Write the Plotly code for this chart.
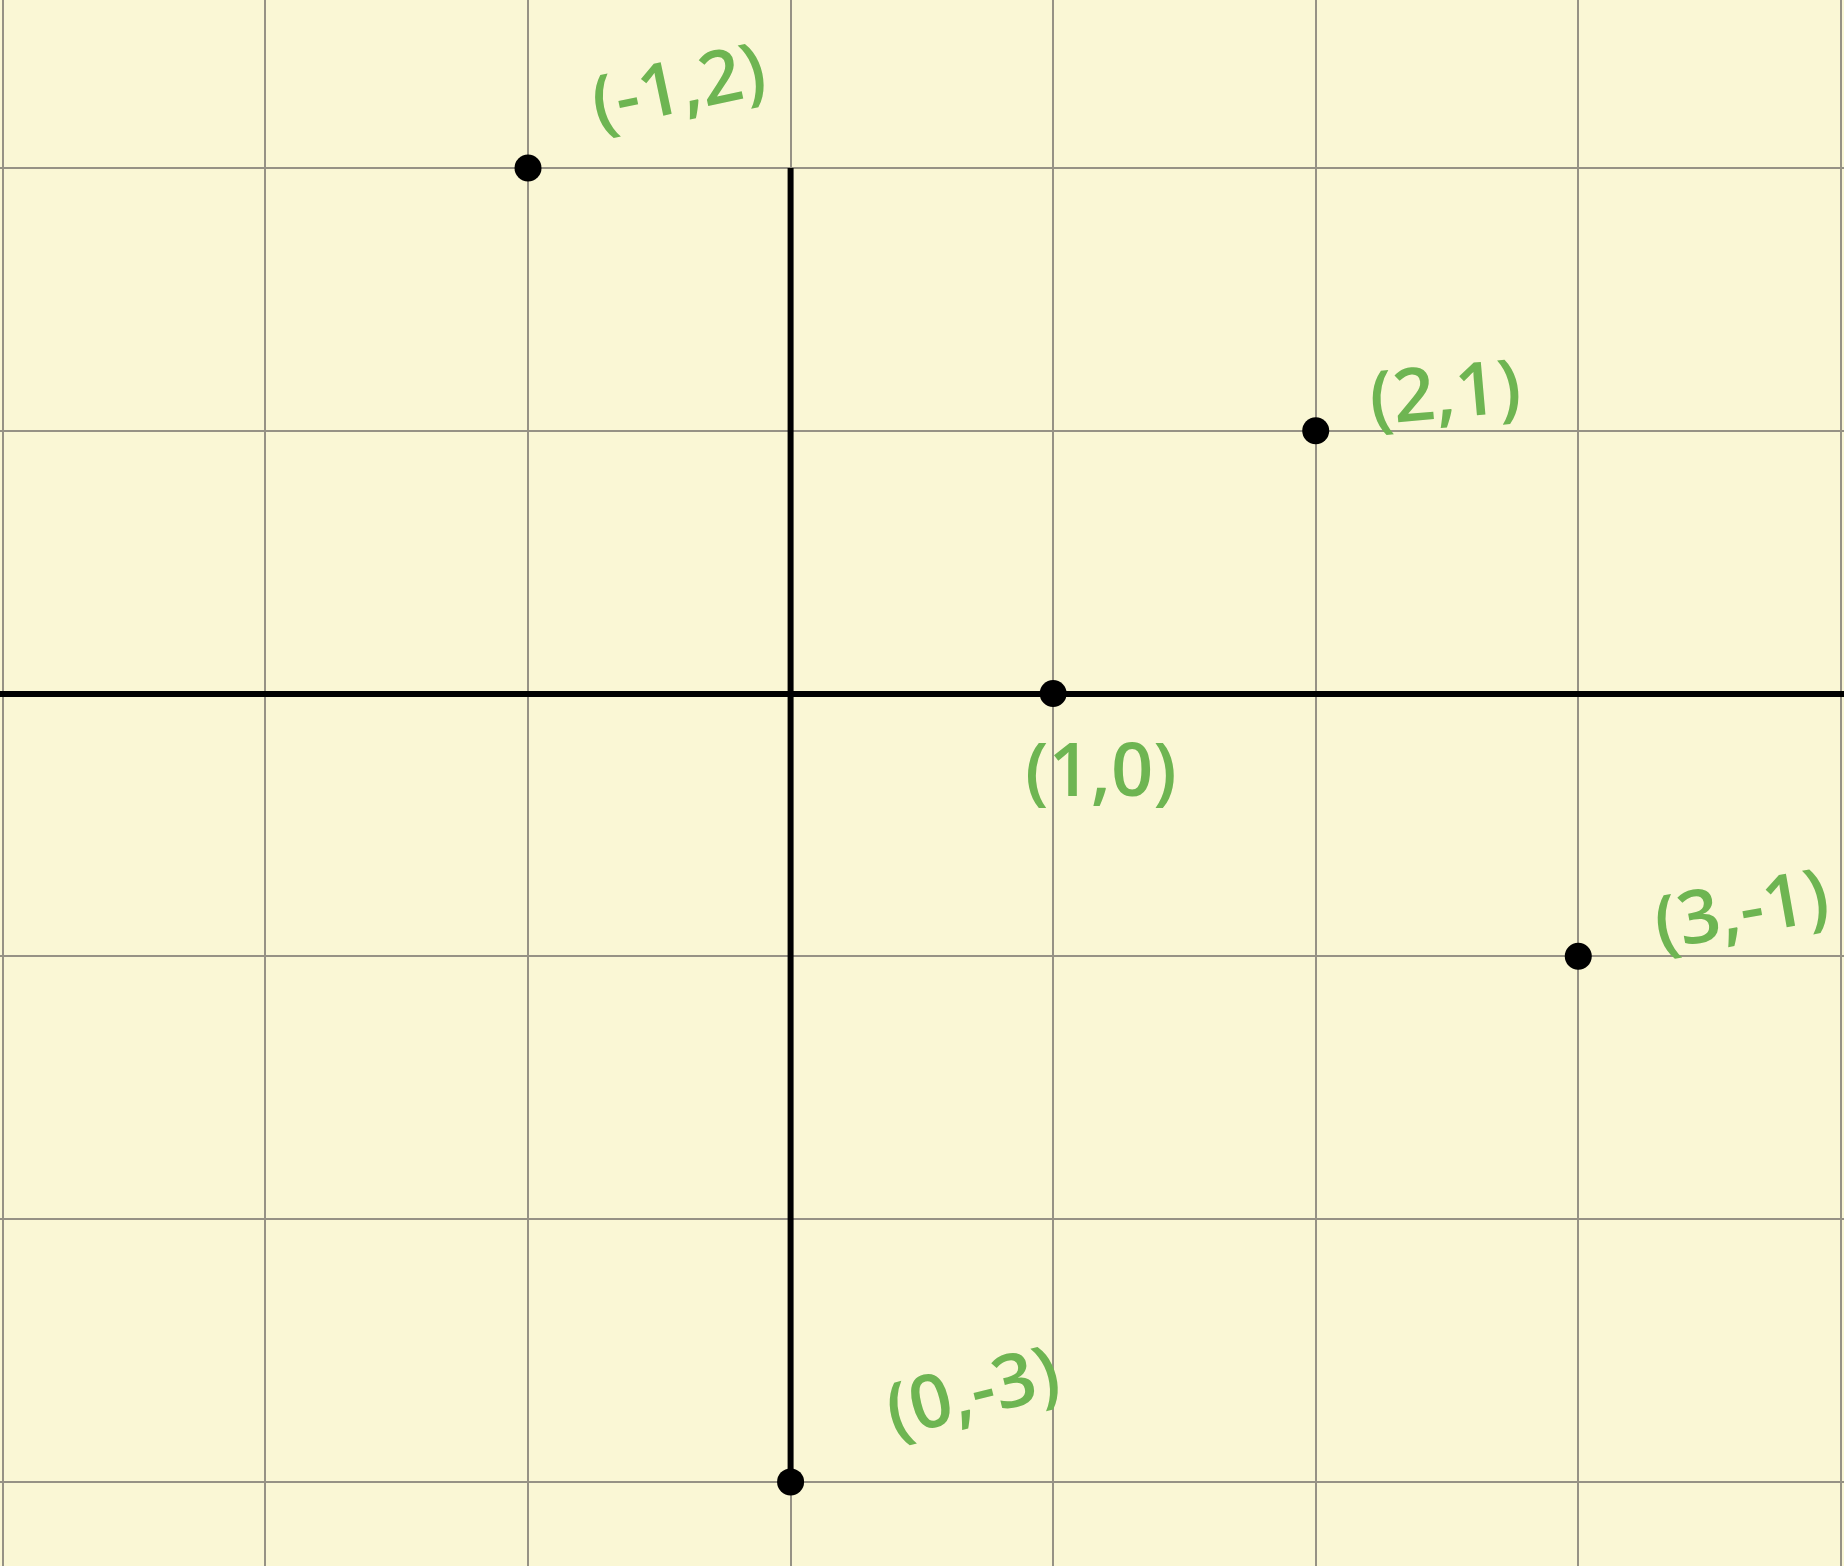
import plotly.graph_objects as go

# data
point_x = [-1, 2, 1, 3, 0]
point_y = [2, 1, 0, -1, -3]
point_labels = ["(-1,2)", "(2,1)", "(1,0)", "(3,-1)", "(0,-3)"]

# label styling (pixel offsets from each point, text angles)
label_dx = [149, 129, 48, 162, 181]
label_dy = [84, 41, -74, 50, 93]
label_angle = [-12, -5, 0, -10, -14]

BG = "rgb(250,247,213)"
GRID = "rgb(150,146,133)"
GREEN = "rgb(110,181,82)"

fig = go.Figure()

# vertical axis segment through the origin, spanning the data's y extent
fig.add_trace(go.Scatter(
    x=[0, 0], y=[max(point_y), min(point_y)], mode="lines",
    line=dict(color="black", width=6), hoverinfo="skip", showlegend=False))

fig.add_trace(go.Scatter(
    x=point_x, y=point_y, mode="markers",
    marker=dict(color="black", size=27), showlegend=False))

for x, y, t, dx, dy, ang in zip(point_x, point_y, point_labels, label_dx, label_dy, label_angle):
    fig.add_annotation(x=x, y=y, text=t, showarrow=False, xshift=dx, yshift=dy,
                       textangle=ang, xanchor="center", yanchor="middle",
                       font=dict(family="Open Sans", size=74, color=GREEN, weight=600))

fig.update_layout(
    width=1844, height=1566,
    margin=dict(l=0, r=0, t=0, b=0),
    paper_bgcolor=BG, plot_bgcolor=BG,
    xaxis=dict(range=[-3.011, 4.012], dtick=1, tick0=0, showgrid=True,
               gridcolor=GRID, gridwidth=2, zeroline=False,
               showticklabels=False, ticks="", showline=False, fixedrange=True),
    yaxis=dict(range=[-3.320, 2.639], dtick=1, tick0=0, showgrid=True,
               gridcolor=GRID, gridwidth=2, zeroline=True, zerolinecolor="black",
               zerolinewidth=6, showticklabels=False, ticks="", showline=False,
               fixedrange=True),
)

fig.write_html("out.html", config={"displayModeBar": False},
               post_script="document.body.style.margin='0';document.body.style.overflow='hidden';")
